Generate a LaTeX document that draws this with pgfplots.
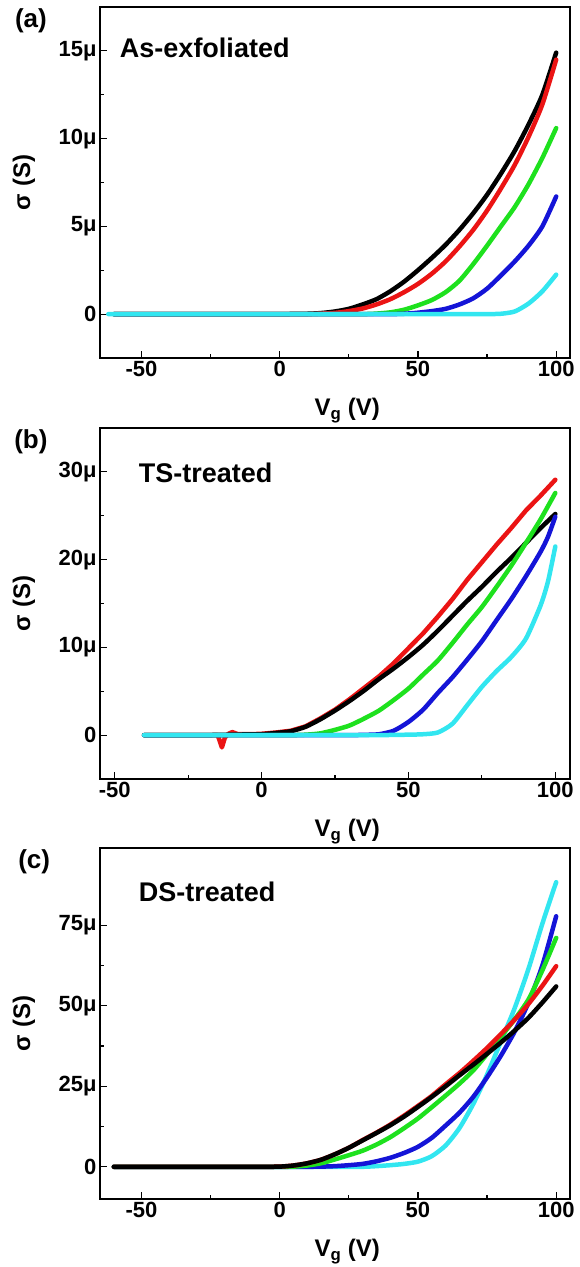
\documentclass[border=0pt]{standalone}
\usepackage{fontspec}
\setmainfont{Liberation Sans}
\usepackage{pgfplots}
\pgfplotsset{compat=1.18}

\definecolor{cR}{RGB}{235,20,20}
\definecolor{cG}{RGB}{30,225,30}
\definecolor{cB}{RGB}{20,20,215}
\definecolor{cC}{RGB}{50,230,240}

\tikzset{
  tag/.style={font=\fontsize{26}{28}\selectfont\bfseries},
  ann/.style={font=\fontsize{27}{29}\selectfont\bfseries, anchor=west},
}
\pgfplotsset{
  panel/.style={
    scale only axis, width=470pt, height=351pt,
    axis line style={line width=1.6pt},
    tick align=inside, tick pos=left,
    major tick length=7pt, minor tick length=4pt,
    every tick/.append style={line width=1.2pt, black},
    minor x tick num=1, minor y tick num=1,
    tick label style={font=\fontsize{22}{24}\selectfont\bfseries},
    xtick={-50,0,50,100}, xticklabels={-50,0,50,100},
    xlabel={V\textsubscript{g} (V)}, ylabel={σ (S)},
    xlabel style={at={(axis description cs:0.526,-0.105)},anchor=north,
      font=\fontsize{24}{26}\selectfont\bfseries},
    ylabel style={at={(axis description cs:-0.162,0.5)},anchor=center,
      font=\fontsize{24}{26}\selectfont\bfseries},
    clip mode=individual,
    every axis plot/.append style={line width=4.5pt, line join=round, line cap=round, smooth, tension=0.4},
  },
}

\begin{document}
\begin{tikzpicture}
\path[use as bounding box] (0,0) rectangle (579pt,1267pt);

% ---------- (a) ----------
\begin{axis}[panel, at={(100pt,909pt)}, anchor=south west,
  xmin=-65, xmax=105, ymin=-2.5, ymax=17.5,
  ytick={0,5,10,15}, yticklabels={0,5μ,10μ,15μ}]
\addplot[black] coordinates {(-60,0)(-50,0)(-40,0)(-30,0)(-20,0)(-10,0)(0,0)(5,0.01)(10,0.02)(15,0.06)(20,0.15)(25,0.3)(30,0.55)(35,0.85)(40,1.3)(45,1.85)(50,2.5)(55,3.2)(60,3.95)(65,4.8)(70,5.75)(75,6.8)(80,8.0)(85,9.3)(90,10.8)(95,12.5)(100,14.9)};
\addplot[cR] coordinates {(-60,0)(-50,0)(-40,0)(-30,0)(-20,0)(-10,0)(0,0)(10,0)(15,0.03)(20,0.07)(25,0.17)(30,0.32)(35,0.55)(40,0.85)(45,1.25)(50,1.72)(55,2.3)(60,3.0)(65,3.85)(70,4.8)(75,5.9)(80,7.15)(85,8.5)(90,10.1)(95,11.95)(100,14.5)};
\addplot[cG] coordinates {(-60,0)(-50,0)(-40,0)(-30,0)(-20,0)(-10,0)(0,0)(10,0)(20,0)(30,0)(35,0.03)(40,0.1)(45,0.25)(50,0.5)(55,0.8)(60,1.25)(65,1.9)(70,2.85)(75,3.9)(80,5.0)(85,6.1)(90,7.4)(95,8.9)(100,10.6)};
\addplot[cB] coordinates {(-60,0)(-50,0)(-40,0)(-30,0)(-20,0)(-10,0)(0,0)(10,0)(20,0)(30,0)(40,0)(45,0.02)(50,0.08)(55,0.17)(60,0.3)(65,0.55)(70,0.9)(75,1.45)(80,2.2)(85,3.0)(90,3.9)(95,5.0)(100,6.7)};
\addplot[cC] coordinates {(-62,0)(-50,0)(-40,0)(-30,0)(-20,0)(-10,0)(0,0)(10,0)(20,0)(30,0)(40,0)(50,0)(60,0)(70,0)(75,0)(80,0.02)(85,0.15)(90,0.6)(95,1.3)(100,2.25)};
\node[tag] at (rel axis cs:-0.147,0.96) {(a)};
\node[ann] at (rel axis cs:0.035,0.883) {As-exfoliated};
\end{axis}

% ---------- (b) ----------
\begin{axis}[panel, at={(100pt,488pt)}, anchor=south west,
  xmin=-55, xmax=105, ymin=-5, ymax=35,
  ytick={0,10,20,30}, yticklabels={0,10μ,20μ,30μ}]
\addplot[cR, sharp plot] coordinates {(-40,0)(-30,0)(-20,0)(-15,0)(-14.5,-0.4)(-13.5,-1.4)(-12.5,-0.3)(-11.5,0.1)(-10,0.35)(-8,0.1)(-4,0.1)(0,0.15)(5,0.3)(10,0.5)(15,1.0)(20,1.9)(25,2.9)(30,4.1)(35,5.4)(40,6.7)(45,8.2)(50,9.9)(55,11.6)(60,13.5)(65,15.5)(70,17.7)(75,19.7)(80,21.7)(85,23.6)(90,25.6)(95,27.3)(100,29.1)};
\addplot[black] coordinates {(-40,0)(-30,0)(-20,0)(-10,0.05)(-5,0.08)(0,0.1)(5,0.25)(10,0.45)(15,0.95)(20,1.8)(25,2.8)(30,3.9)(35,5.1)(40,6.4)(45,7.6)(50,8.9)(55,10.3)(60,11.9)(65,13.6)(70,15.3)(75,16.9)(80,18.6)(85,20.2)(90,21.9)(95,23.6)(100,25.2)};
\addplot[cG] coordinates {(-40,0)(-30,0)(-20,0)(-10,0)(0,0)(10,0)(15,0.05)(20,0.2)(25,0.6)(30,1.1)(35,1.9)(40,2.8)(45,4.0)(50,5.3)(55,6.9)(60,8.5)(65,10.5)(70,12.6)(75,14.6)(80,16.9)(85,19.3)(90,21.9)(95,24.6)(100,27.6)};
\addplot[cB] coordinates {(-40,0)(-30,0)(-20,0)(-10,0)(0,0)(10,0)(20,0)(30,0)(35,0.03)(40,0.1)(45,0.5)(50,1.5)(55,2.9)(60,4.8)(65,6.6)(70,8.6)(75,10.7)(80,13.1)(85,15.5)(90,18.1)(95,20.9)(97.5,22.6)(100,24.9)};
\addplot[cC] coordinates {(-40,0)(-30,0)(-20,0)(-10,0)(0,0)(10,0)(20,0)(30,0)(40,0)(50,0.05)(55,0.1)(60,0.3)(65,1.3)(70,3.4)(75,5.5)(80,7.3)(85,8.9)(90,11.0)(95,14.8)(97.5,17.5)(100,21.5)};
\node[tag] at (rel axis cs:-0.147,0.96) {(b)};
\node[ann] at (rel axis cs:0.075,0.872) {TS-treated};
\end{axis}

% ---------- (c) ----------
\begin{axis}[panel, at={(100pt,68pt)}, anchor=south west,
  xmin=-65, xmax=105, ymin=-10, ymax=99,
  ytick={0,25,50,75}, yticklabels={0,25μ,50μ,75μ}]
\addplot[cC] coordinates {(-60,0)(-50,0)(-40,0)(-30,0)(-20,0)(-10,0)(0,0)(10,0)(20,0)(30,0)(35,0.2)(40,0.5)(45,0.9)(50,1.6)(55,3.3)(60,6.6)(65,12.0)(70,19.5)(75,28.6)(80,38.9)(85,49.3)(90,61.5)(95,75.5)(100,88.4)};
\addplot[cB] coordinates {(-60,0)(-50,0)(-40,0)(-30,0)(-20,0)(-10,0)(0,0)(10,0)(15,0.05)(20,0.2)(25,0.5)(30,0.9)(35,1.7)(40,2.8)(45,4.3)(50,6.2)(55,9.0)(60,12.8)(65,16.8)(70,21.7)(75,27.8)(80,34.5)(85,42.0)(90,51.0)(95,62.5)(100,77.8)};
\addplot[cG] coordinates {(-60,0)(-50,0)(-40,0)(-30,0)(-20,0)(-10,0)(0,0)(5,0.05)(10,0.4)(15,1.1)(20,2.3)(25,3.6)(30,5.0)(35,6.9)(40,9.2)(45,12.0)(50,15.0)(55,18.5)(60,22.1)(65,25.8)(70,29.9)(75,35.0)(80,40.4)(85,45.8)(90,52.0)(95,61.0)(100,71.1)};
\addplot[cR] coordinates {(-60,0)(-50,0)(-40,0)(-30,0)(-20,0)(-10,0)(-5,0)(0,0.05)(5,0.4)(10,1.1)(15,2.2)(20,3.9)(25,5.9)(30,8.3)(35,10.6)(40,13.1)(45,15.9)(50,18.9)(55,22.0)(60,25.6)(65,29.1)(70,32.9)(75,36.9)(80,41.2)(85,45.7)(90,50.6)(95,56.2)(100,62.3)};
\addplot[black] coordinates {(-60,0)(-50,0)(-40,0)(-30,0)(-20,0)(-10,0)(-5,0)(0,0.05)(5,0.4)(10,1.1)(15,2.2)(20,3.9)(25,5.9)(30,8.2)(35,10.5)(40,12.9)(45,15.6)(50,18.6)(55,21.7)(60,25.0)(65,28.4)(70,31.7)(75,35.1)(80,38.6)(85,42.3)(90,46.3)(95,51.0)(100,56.0)};
\node[tag] at (rel axis cs:-0.14,0.96) {(c)};
\node[ann] at (rel axis cs:0.075,0.875) {DS-treated};
\end{axis}
\end{tikzpicture}
\end{document}
